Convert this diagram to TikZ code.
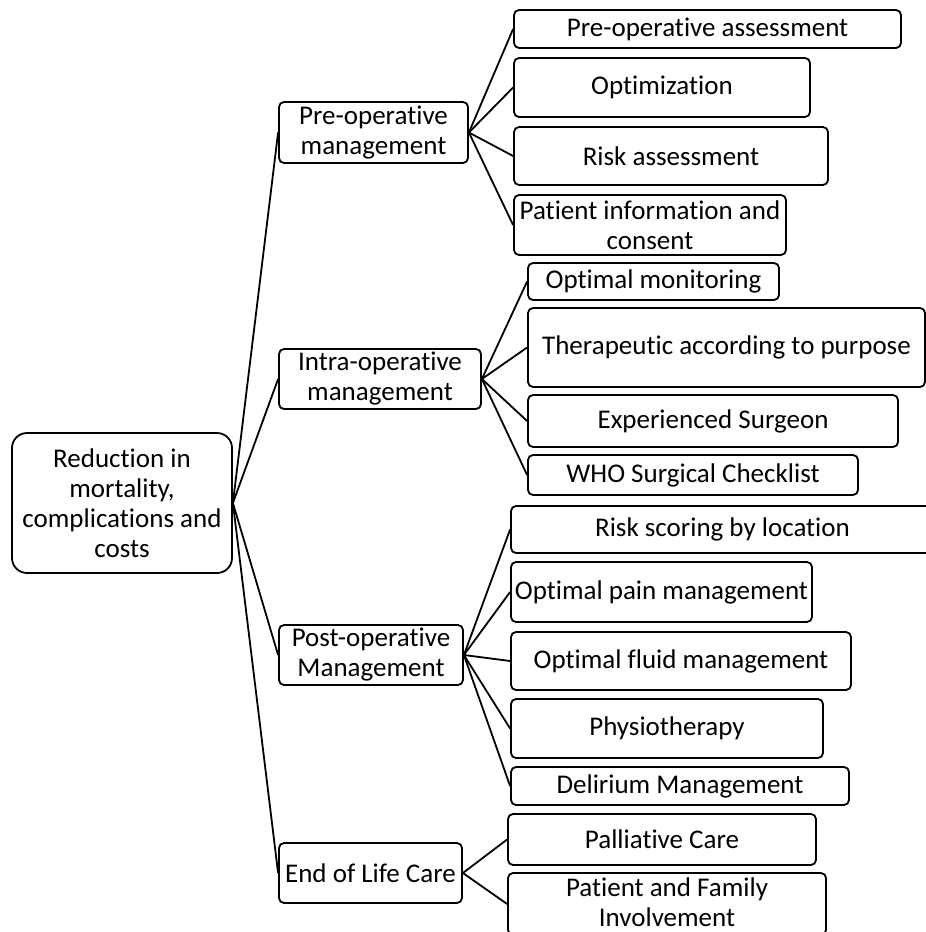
\documentclass[tikz,border=0pt]{standalone}
\usepackage{fontspec}
\setmainfont{Carlito}[Ligatures=NoCommon]
\tikzset{
  box/.style={draw, line width=1.8pt, rounded corners=5pt, inner sep=0pt, align=center,
    font=\fontsize{27}{30}\selectfont},
  link/.style={line width=1.8pt}
}
\newcommand\bx[6]{\node[box, minimum width={(#4-#2)*1pt}, minimum height={(#5-#3)*1pt}] (#1) at ({(#2+#4)/2},{(#3+#5)/2}) {#6};}
\begin{document}
\begin{tikzpicture}[x=1pt,y=-1pt]
\useasboundingbox (0,0) rectangle (926,932);
\clip (0,0) rectangle (926,932);
% root
\node[box, rounded corners=15pt, minimum width=220pt, minimum height=140pt] (root) at (122,503)
  {Reduction in\\mortality,\\complications and\\costs};
% level 1
\bx{pre}{279}{102}{468}{163}{Pre-operative\\management}
\bx{intra}{279}{349}{481}{409}{Intra-operative\\management}
\bx{post}{279}{625}{463}{685}{Post-operative\\Management}
\bx{eol}{279}{843}{462}{903}{End of Life Care}
% pre children
\bx{p1}{514}{10}{901}{48}{Pre-operative assessment}
\bx{p2}{514}{58}{810}{117}{Optimization}
\bx{p3}{514}{127}{828}{185}{Risk assessment}
\bx{p4}{514}{195}{786}{255}{Patient information and\\consent}
% intra children
\bx{i1}{528}{263}{779}{300}{Optimal monitoring}
\bx{i2}{528}{308}{925}{387}{Therapeutic according to purpose}
\bx{i3}{528}{395}{898}{447}{Experienced Surgeon}
\bx{i4}{528}{455}{858}{495}{WHO Surgical Checklist}
% post children
\bx{o1}{511}{506}{934}{553}{Risk scoring by location}
\bx{o2}{511}{562}{812}{622}{Optimal pain management}
\bx{o3}{511}{632}{851}{690}{Optimal fluid management}
\bx{o4}{511}{699}{823}{758}{Physiotherapy}
\bx{o5}{511}{767}{849}{805}{Delirium Management}
% end children
\bx{e1}{508}{814}{816}{865}{Palliative Care}
\bx{e2}{508}{873}{826}{935}{Patient and Family\\Involvement\vphantom{g}}
% connectors
\foreach \c in {pre,intra,post,eol} \draw[link] (root.east) -- (\c.west);
\foreach \c in {p1,p2,p3,p4} \draw[link] (pre.east) -- (\c.west);
\foreach \c in {i1,i2,i3,i4} \draw[link] (intra.east) -- (\c.west);
\foreach \c in {o1,o2,o3,o4,o5} \draw[link] (post.east) -- (\c.west);
\foreach \c in {e1,e2} \draw[link] (eol.east) -- (\c.west);
\end{tikzpicture}
\end{document}
